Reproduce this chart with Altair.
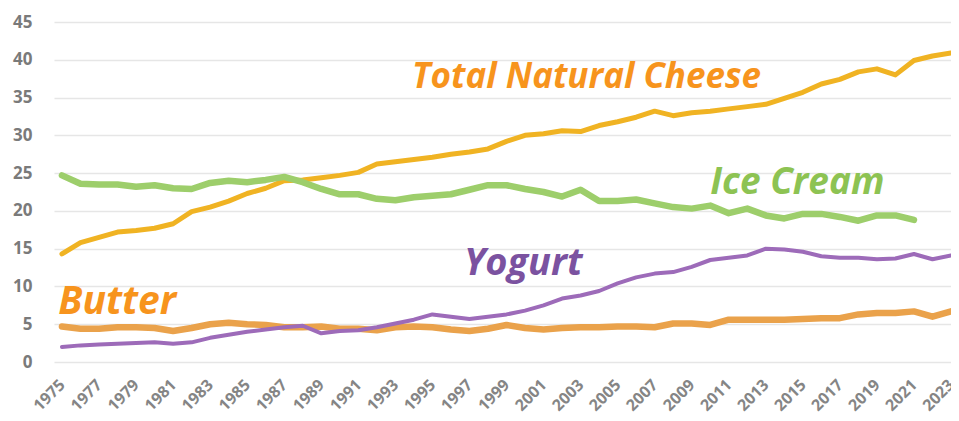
import altair as alt
import pandas as pd

years = list(range(1975, 2024))

cheese = [14.3, 15.8, 16.5, 17.2, 17.4, 17.7, 18.3, 19.9, 20.5, 21.3,
          22.3, 23.0, 24.0, 24.1, 24.4, 24.7, 25.1, 26.2, 26.5, 26.8,
          27.1, 27.5, 27.8, 28.2, 29.2, 30.0, 30.2, 30.6, 30.5, 31.3,
          31.8, 32.4, 33.2, 32.6, 33.0, 33.2, 33.5, 33.8, 34.1, 34.9,
          35.7, 36.8, 37.4, 38.4, 38.8, 38.0, 39.9, 40.5, 40.9]

ice_cream = [24.7, 23.6, 23.5, 23.5, 23.2, 23.4, 23.0, 22.9, 23.7, 24.0,
             23.8, 24.1, 24.5, 23.8, 22.9, 22.2, 22.2, 21.6, 21.4, 21.8,
             22.0, 22.2, 22.8, 23.4, 23.4, 22.9, 22.5, 21.9, 22.8, 21.3,
             21.3, 21.5, 21.0, 20.5, 20.3, 20.7, 19.7, 20.3, 19.4, 19.0,
             19.6, 19.6, 19.2, 18.7, 19.4, 19.4, 18.8]

butter = [4.7, 4.4, 4.4, 4.6, 4.6, 4.5, 4.1, 4.5, 5.0, 5.2,
          5.0, 4.9, 4.6, 4.6, 4.7, 4.4, 4.4, 4.2, 4.6, 4.7,
          4.6, 4.3, 4.1, 4.4, 4.9, 4.5, 4.3, 4.5, 4.6, 4.6,
          4.7, 4.7, 4.6, 5.1, 5.1, 4.9, 5.6, 5.6, 5.6, 5.6,
          5.7, 5.8, 5.8, 6.3, 6.5, 6.5, 6.7, 6.0, 6.7]

yogurt = [2.0, 2.2, 2.3, 2.4, 2.5, 2.6, 2.4, 2.6, 3.2, 3.6,
          4.0, 4.3, 4.6, 4.8, 3.8, 4.1, 4.2, 4.6, 5.1, 5.6,
          6.3, 6.0, 5.7, 6.0, 6.3, 6.8, 7.5, 8.4, 8.8, 9.4,
          10.4, 11.2, 11.7, 11.9, 12.6, 13.5, 13.8, 14.1, 15.0, 14.9,
          14.6, 14.0, 13.8, 13.8, 13.6, 13.7, 14.3, 13.6, 14.1]

series_names = ["Total Natural Cheese", "Ice Cream", "Butter", "Yogurt"]
series_values = [cheese, ice_cream, butter, yogurt]
line_colors = ["#F0B323", "#9DCE6B", "#EAA24B", "#9D6BB9"]
line_widths = [5, 6.5, 6.5, 4]

label_texts = ["Total Natural Cheese", "Ice Cream", "Yogurt", "Butter"]
label_years = [1993.9, 2010.0, 1996.7, 1974.8]
label_values = [36.2, 22.3, 11.5, 6.4]
label_colors = ["#F7941D", "#8DC353", "#7B52A0", "#F7941D"]
label_sizes = [35, 37, 38, 39]

x_ticks = list(range(1975, 2024, 2))
y_ticks = list(range(0, 50, 5))

rows = []
for name, vals in zip(series_names, series_values):
    for yr, v in zip(years, vals):
        rows.append({"series": name, "year": yr, "value": v})
df = pd.DataFrame(rows)

labels_df = pd.DataFrame({
    "label": label_texts,
    "year": label_years,
    "value": label_values,
    "color": label_colors,
    "size": label_sizes,
})

x_scale = alt.Scale(domain=[1974.57, 2023], nice=False, zero=False)
y_scale = alt.Scale(domain=[0, 45], nice=False, zero=True)

axis_font = "Open Sans"
x_axis = alt.Axis(values=x_ticks, format="d", labelAngle=315, labelAlign="right",
                  labelBaseline="middle", labelPadding=20, ticks=False, domain=False,
                  grid=False, labelFont=axis_font, labelFontSize=16, labelFontWeight="bold",
                  labelColor="#858585", labelOverlap=False, labelBound=False,
                  labelFlush=False, title=None)
y_axis = alt.Axis(values=y_ticks, ticks=False, domain=False, grid=True,
                  gridColor="#E6E6E6", gridWidth=1.5, labelPadding=22,
                  labelFont=axis_font, labelFontSize=17, labelFontWeight="bold",
                  labelColor="#7A7A7A", title=None)

layers = []
for name, color, width in zip(series_names, line_colors, line_widths):
    layer = alt.Chart(df).transform_filter(
        alt.datum.series == name
    ).mark_line(color=color, strokeWidth=width, strokeJoin="round",
                strokeCap="round", clip=True).encode(
        x=alt.X("year:Q", scale=x_scale, axis=x_axis),
        y=alt.Y("value:Q", scale=y_scale, axis=y_axis),
    )
    layers.append(layer)

text_layer = alt.Chart(labels_df).mark_text(
    align="left", baseline="alphabetic", font="Open Sans",
    fontStyle="italic", fontWeight="bold"
).encode(
    x=alt.X("year:Q", scale=x_scale, axis=x_axis),
    y=alt.Y("value:Q", scale=y_scale, axis=y_axis),
    text="label:N",
    color=alt.Color("color:N", scale=None),
    size=alt.Size("size:Q", scale=None),
)
layers.append(text_layer)

chart = alt.layer(*layers).properties(
    width=897, height=340,
    autosize=alt.AutoSizeParams(type="none"),
    padding={"left": 46, "top": 14, "right": 0, "bottom": 55},
    background="white",
).configure_view(stroke=None)

chart.save("out.html", embed_options={"renderer": "svg", "actions": False})
